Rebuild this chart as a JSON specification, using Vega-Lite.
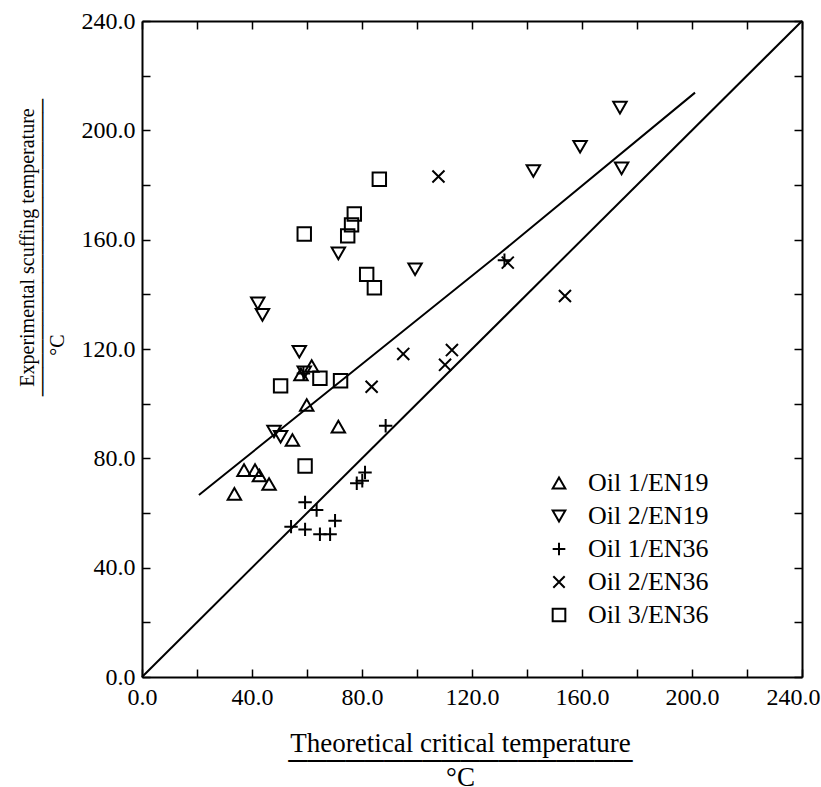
{
  "$schema": "https://vega.github.io/schema/vega-lite/v6.json",
  "autosize": "none",
  "width": 660,
  "height": 656,
  "padding": {"left": 142, "top": 21, "right": 19, "bottom": 110},
  "background": "white",
  "config": {
    "font": "Liberation Serif",
    "view": {"stroke": null},
    "axis": {
      "domainColor": "black",
      "domainWidth": 2,
      "tickColor": "black",
      "tickWidth": 1.5,
      "grid": false,
      "labelColor": "black",
      "titleColor": "black",
      "labelFont": "Liberation Serif",
      "titleFont": "Liberation Serif",
      "titleFontWeight": "normal"
    },
    "legend": {
      "labelFont": "Liberation Serif",
      "labelColor": "black"
    }
  },
  "datasets": {
    "points": [
      {"x": 33.6, "y": 67.0, "series": "Oil 1/EN19"},
      {"x": 37.1, "y": 75.7, "series": "Oil 1/EN19"},
      {"x": 41.1, "y": 75.7, "series": "Oil 1/EN19"},
      {"x": 42.7, "y": 73.7, "series": "Oil 1/EN19"},
      {"x": 46.2, "y": 70.6, "series": "Oil 1/EN19"},
      {"x": 54.7, "y": 86.7, "series": "Oil 1/EN19"},
      {"x": 59.9, "y": 99.5, "series": "Oil 1/EN19"},
      {"x": 57.8, "y": 110.7, "series": "Oil 1/EN19"},
      {"x": 61.7, "y": 113.8, "series": "Oil 1/EN19"},
      {"x": 71.4, "y": 91.6, "series": "Oil 1/EN19"},
      {"x": 42.1, "y": 136.7, "series": "Oil 2/EN19"},
      {"x": 43.8, "y": 132.5, "series": "Oil 2/EN19"},
      {"x": 71.4, "y": 155.0, "series": "Oil 2/EN19"},
      {"x": 99.3, "y": 149.2, "series": "Oil 2/EN19"},
      {"x": 57.2, "y": 119.0, "series": "Oil 2/EN19"},
      {"x": 59.0, "y": 111.5, "series": "Oil 2/EN19"},
      {"x": 48.0, "y": 89.8, "series": "Oil 2/EN19"},
      {"x": 50.4, "y": 87.9, "series": "Oil 2/EN19"},
      {"x": 142.3, "y": 185.1, "series": "Oil 2/EN19"},
      {"x": 159.3, "y": 194.0, "series": "Oil 2/EN19"},
      {"x": 173.8, "y": 208.3, "series": "Oil 2/EN19"},
      {"x": 174.4, "y": 186.1, "series": "Oil 2/EN19"},
      {"x": 54.2, "y": 55.0, "series": "Oil 1/EN36"},
      {"x": 59.3, "y": 63.9, "series": "Oil 1/EN36"},
      {"x": 59.3, "y": 54.0, "series": "Oil 1/EN36"},
      {"x": 63.5, "y": 61.1, "series": "Oil 1/EN36"},
      {"x": 64.7, "y": 52.2, "series": "Oil 1/EN36"},
      {"x": 68.4, "y": 52.2, "series": "Oil 1/EN36"},
      {"x": 70.2, "y": 57.2, "series": "Oil 1/EN36"},
      {"x": 78.1, "y": 70.9, "series": "Oil 1/EN36"},
      {"x": 81.1, "y": 74.8, "series": "Oil 1/EN36"},
      {"x": 80.1, "y": 71.8, "series": "Oil 1/EN36"},
      {"x": 88.6, "y": 91.9, "series": "Oil 1/EN36"},
      {"x": 58.7, "y": 111.0, "series": "Oil 1/EN36"},
      {"x": 131.8, "y": 152.5, "series": "Oil 1/EN36"},
      {"x": 107.8, "y": 183.1, "series": "Oil 2/EN36"},
      {"x": 95.0, "y": 118.2, "series": "Oil 2/EN36"},
      {"x": 83.5, "y": 106.2, "series": "Oil 2/EN36"},
      {"x": 153.8, "y": 139.4, "series": "Oil 2/EN36"},
      {"x": 112.7, "y": 119.6, "series": "Oil 2/EN36"},
      {"x": 110.2, "y": 114.2, "series": "Oil 2/EN36"},
      {"x": 133.0, "y": 151.6, "series": "Oil 2/EN36"},
      {"x": 59.0, "y": 162.1, "series": "Oil 3/EN36"},
      {"x": 86.3, "y": 182.1, "series": "Oil 3/EN36"},
      {"x": 77.2, "y": 169.4, "series": "Oil 3/EN36"},
      {"x": 76.2, "y": 165.4, "series": "Oil 3/EN36"},
      {"x": 74.8, "y": 161.4, "series": "Oil 3/EN36"},
      {"x": 81.7, "y": 147.3, "series": "Oil 3/EN36"},
      {"x": 84.5, "y": 142.4, "series": "Oil 3/EN36"},
      {"x": 50.4, "y": 106.5, "series": "Oil 3/EN36"},
      {"x": 64.7, "y": 109.3, "series": "Oil 3/EN36"},
      {"x": 72.2, "y": 108.4, "series": "Oil 3/EN36"},
      {"x": 59.3, "y": 77.2, "series": "Oil 3/EN36"}
    ],
    "lines": [
      {"x": 0, "y": 0, "line": "equal"},
      {"x": 240, "y": 240, "line": "equal"},
      {"x": 20.7, "y": 66.6, "line": "fit"},
      {"x": 130.2, "y": 155.0, "line": "fit"},
      {"x": 201.1, "y": 213.8, "line": "fit"}
    ]
  },
  "layer": [
    {
      "data": {"name": "points"},
      "mark": {"type": "point", "filled": false, "stroke": "black", "strokeWidth": 2, "size": 180, "opacity": 1},
      "encoding": {
        "x": {
          "field": "x", "type": "quantitative",
          "scale": {"domain": [0, 240], "nice": false, "zero": false},
          "axis": {
            "orient": "bottom",
            "values": [0, 20, 40, 60, 80, 100, 120, 140, 160, 180, 200, 220, 240],
            "labelExpr": "datum.value === 240 ? '240.0\u2800' : (datum.value % 40 === 0 ? format(datum.value, '.1f') : '')",
            "tickSize": -8,
            "labelPadding": 16,
            "labelFontSize": 24,
            "labelFlush": false,
            "labelOverlap": false,
            "labelBound": false,
            "title": ["Theoretical critical temperature", "──────────────────", "°C"],
            "titleFontSize": 27,
            "titleLineHeight": 17,
            "titlePadding": 21,
            "titleX": 318
          }
        },
        "y": {
          "field": "y", "type": "quantitative",
          "scale": {"domain": [0, 240], "nice": false, "zero": false},
          "axis": {
            "orient": "left",
            "values": [0, 20, 40, 60, 80, 100, 120, 140, 160, 180, 200, 220, 240],
            "labelExpr": "datum.value % 40 === 0 ? format(datum.value, '.1f') : ''",
            "tickSize": -8,
            "labelPadding": 15,
            "labelFontSize": 24,
            "labelFlush": false,
            "labelOverlap": false,
            "title": ["Experimental scuffing temperature", "─────────────────────", "°C\u2800\u2800\u2800\u2800\u2800\u2800\u2800\u2800\u2800\u2800\u2800\u2800\u2800"],
            "titleFontSize": 20,
            "titleLineHeight": 15,
            "titleBaseline": "bottom",
            "titleAngle": -90,
            "titleAlign": "center",
            "titleX": -105,
            "titleY": 226
          }
        },
        "shape": {
          "field": "series", "type": "nominal",
          "scale": {
            "domain": ["Oil 1/EN19", "Oil 2/EN19", "Oil 1/EN36", "Oil 2/EN36", "Oil 3/EN36"],
            "range": ["triangle-up", "triangle-down", "M-1,0L1,0M0,-1L0,1", "M-0.9,-0.9L0.9,0.9M-0.9,0.9L0.9,-0.9", "square"]
          },
          "legend": {
            "title": null,
            "orient": "none",
            "legendX": 404,
            "legendY": 449,
            "labelFontSize": 26,
            "symbolSize": 160,
            "symbolStrokeWidth": 2,
            "symbolStrokeColor": "black",
            "symbolFillColor": "transparent",
            "rowPadding": 7,
            "labelOffset": 16,
            "padding": 0
          }
        }
      }
    },
    {
      "data": {"name": "lines"},
      "mark": {"type": "line", "color": "black", "strokeWidth": 2},
      "encoding": {
        "x": {
          "field": "x", "type": "quantitative",
          "scale": {"domain": [0, 240], "nice": false, "zero": false},
          "axis": {
            "orient": "top",
            "values": [0, 20, 40, 60, 80, 100, 120, 140, 160, 180, 200, 220, 240],
            "labels": false,
            "tickSize": -8,
            "title": null
          }
        },
        "y": {
          "field": "y", "type": "quantitative",
          "scale": {"domain": [0, 240], "nice": false, "zero": false},
          "axis": {
            "orient": "right",
            "values": [0, 20, 40, 60, 80, 100, 120, 140, 160, 180, 200, 220, 240],
            "labels": false,
            "tickSize": -8,
            "title": null
          }
        },
        "detail": {"field": "line", "type": "nominal"}
      }
    }
  ],
  "resolve": {"axis": {"x": "independent", "y": "independent"}}
}
